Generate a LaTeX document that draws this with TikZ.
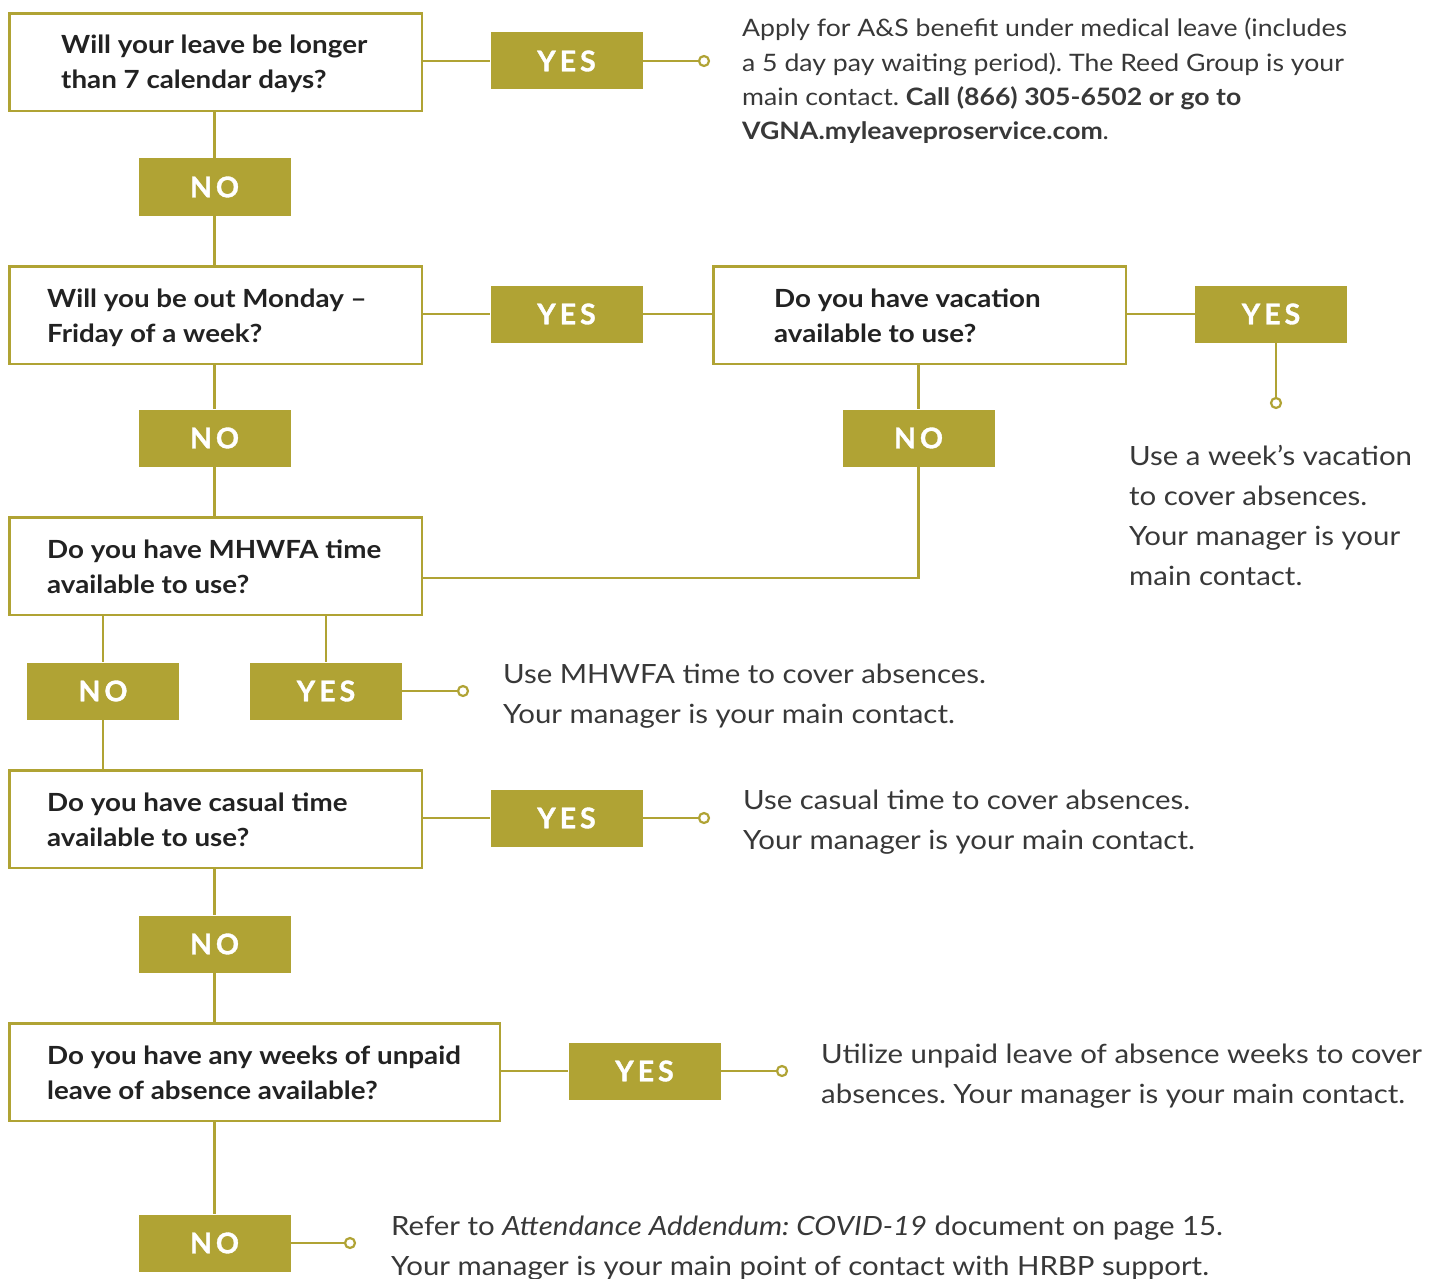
\documentclass[tikz,border=0pt]{standalone}
\usepackage{fontspec}
\setmainfont[FakeStretch=1.11]{Lato}
\newfontfamily\lblfont[LetterSpace=14,FakeBold=1.2]{Lato}
\definecolor{olive}{HTML}{B0A334}
\definecolor{qtext}{HTML}{222222}
\definecolor{atext}{HTML}{383838}
\frenchspacing
\begin{document}
\begin{tikzpicture}[x=1pt,y=-1pt,
  qbox/.style={draw=olive, line width=2.5pt, fill=white, inner sep=0pt, anchor=north west, minimum height=97.5pt},
  lbl/.style={fill=olive, text=white, inner sep=0pt, minimum width=152pt, minimum height=57pt,
    font=\lblfont\bfseries\fontsize{28.5}{28.5}\selectfont},
  qt/.style={anchor=base west, inner sep=0pt, text=qtext, font=\bfseries\fontsize{25}{30}\selectfont},
  anstext/.style={anchor=base west, inner sep=0pt, text=atext, font=\fontsize{26.5}{32}\selectfont},
  anstop/.style={anchor=base west, inner sep=0pt, text=atext, font=\fontsize{24}{30}\selectfont},
  endpt/.style={circle, draw=olive, line width=2.2pt, fill=white, minimum size=10pt, inner sep=0pt},
  link/.style={draw=olive, line width=2.5pt}]
\useasboundingbox (0,0) rectangle (1433,1279);

% question boxes
\node[qbox, minimum width=412.5pt] (q1) at (8.25,12.25) {};
\node[qbox, minimum width=412.5pt] (q2) at (8.25,265.25) {};
\node[qbox, minimum width=412.5pt] (q3) at (712.25,265.25) {};
\node[qbox, minimum width=412.5pt] (q4) at (8.25,516.25) {};
\node[qbox, minimum width=412.5pt] (q5) at (8.25,769.25) {};
\node[qbox, minimum width=490.5pt] (q6) at (8.25,1022.25) {};

% question texts
\node[qt] (q1a) at (61,54) {Will your leave be longer};
\node[qt] (q1b) at (61,89) {than 7 calendar days?};
\node[qt] (q2a) at (47,307) {Will you be out Monday –};
\node[qt] (q2b) at (47,342) {Friday of a week?};
\node[qt] (q3a) at (774,307) {Do you have vacation};
\node[qt] (q3b) at (774,342) {available to use?};
\node[qt] (q4a) at (47,558) {Do you have MHWFA time};
\node[qt] (q4b) at (47,593) {available to use?};
\node[qt] (q5a) at (47,811) {Do you have casual time};
\node[qt] (q5b) at (47,846) {available to use?};
\node[qt] (q6a) at (47,1064) {Do you have any weeks of unpaid};
\node[qt] (q6b) at (47,1099) {leave of absence available?};

% labels
\node[lbl] (y1) at (566.5,61) {YES};
\node[lbl] (n1) at (214.5,187) {NO};
\node[lbl] (y2) at (566.5,314) {YES};
\node[lbl] (y3) at (1271,314) {YES};
\node[lbl] (n2) at (214.5,438) {NO};
\node[lbl] (n3) at (918.5,438) {NO};
\node[lbl] (n4) at (103,691) {NO};
\node[lbl] (y4) at (326,691) {YES};
\node[lbl] (y5) at (566.5,818) {YES};
\node[lbl] (n5) at (214.5,944) {NO};
\node[lbl] (y6) at (644.5,1071) {YES};
\node[lbl] (n6) at (214.5,1243) {NO};

% end circles
\node[endpt] (c1) at (704,61) {};
\node[endpt] (c3) at (1276,403) {};
\node[endpt] (c4) at (463,691) {};
\node[endpt] (c5) at (704,818) {};
\node[endpt] (c6) at (782,1071) {};
\node[endpt] (c7) at (350,1243) {};
\coordinate (j) at (918.5,578);

% connectors
\draw[link] (q1.east |- y1) -- (y1.west);
\draw[link] (y1.east) -- (c1);
\draw[link] (q1.south -| n1) -- (n1.north);
\draw[link] (n1.south) -- (q2.north -| n1);
\draw[link] (q2.east |- y2) -- (y2.west);
\draw[link] (y2.east) -- (q3.west |- y2);
\draw[link] (q3.east |- y3) -- (y3.west);
\draw[link] (y3.south -| c3) -- (c3);
\draw[link] (q2.south -| n2) -- (n2.north);
\draw[link] (n2.south) -- (q4.north -| n2);
\draw[link] (q3.south -| n3) -- (n3.north);
\draw[link] (n3.south) -- (j) -- (q4.east |- j);
\draw[link] (q4.south -| n4) -- (n4.north);
\draw[link] (q4.south -| y4) -- (y4.north);
\draw[link] (y4.east) -- (c4);
\draw[link] (n4.south) -- (q5.north -| n4);
\draw[link] (q5.east |- y5) -- (y5.west);
\draw[link] (y5.east) -- (c5);
\draw[link] (q5.south -| n5) -- (n5.north);
\draw[link] (n5.south) -- (q6.north -| n5);
\draw[link] (q6.east |- y6) -- (y6.west);
\draw[link] (y6.east) -- (c6);
\draw[link] (q6.south -| n6) -- (n6.north);
\draw[link] (n6.east) -- (c7);

% answer texts
\node[anstop] (t1a) at (742,37) {Apply for A\&S benefit under medical leave (includes};
\node[anstop] (t1b) at (742,72) {a 5 day pay waiting period). The Reed Group is your};
\node[anstop] (t1c) at (742,106) {main contact. \textbf{Call (866) 305-6502 or go to}};
\node[anstop] (t1d) at (742,140) {\textbf{VGNA.myleaveproservice.com}.};
\node[anstext] (t3a) at (1129,465) {Use a week’s vacation};
\node[anstext] (t3b) at (1129,505) {to cover absences.};
\node[anstext] (t3c) at (1129,545) {Your manager is your};
\node[anstext] (t3d) at (1129,585) {main contact.};
\node[anstext] (t4a) at (503,683) {Use MHWFA time to cover absences.};
\node[anstext] (t4b) at (503,723) {Your manager is your main contact.};
\node[anstext] (t5a) at (743,809) {Use casual time to cover absences.};
\node[anstext] (t5b) at (743,849) {Your manager is your main contact.};
\node[anstext] (t6a) at (821,1063) {Utilize unpaid leave of absence weeks to cover};
\node[anstext] (t6b) at (821,1103) {absences. Your manager is your main contact.};
\node[anstext] (t7a) at (391,1235) {Refer to \textit{Attendance Addendum: COVID-19} document on page 15.};
\node[anstext] (t7b) at (391,1275) {Your manager is your main point of contact with HRBP support.};
\end{tikzpicture}
\end{document}
